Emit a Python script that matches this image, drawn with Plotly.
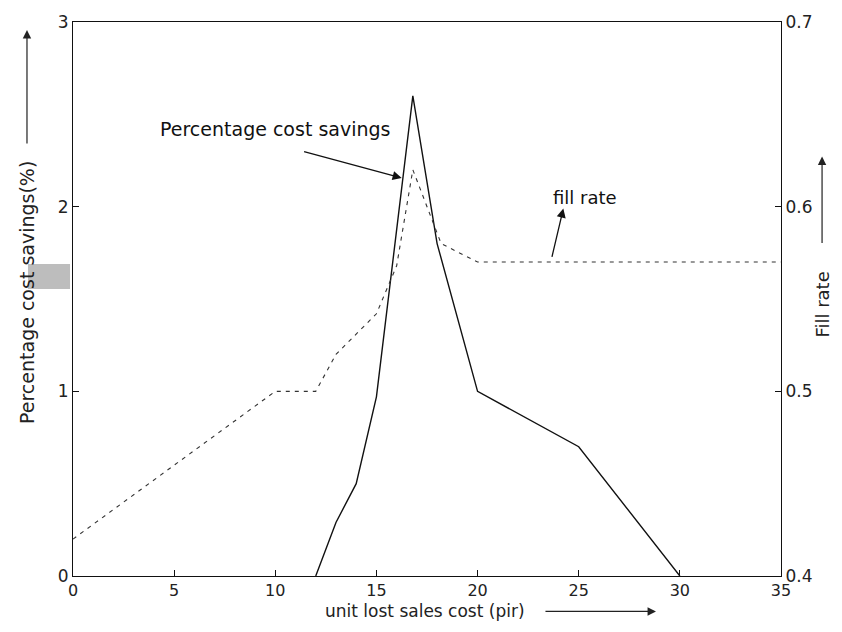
import plotly.graph_objects as go

# ---- data ----
cost_x = [12, 13, 14, 15, 16.8, 18, 20, 25, 30]
cost_savings = [0, 0.29, 0.5, 0.97, 2.6, 1.8, 1.0, 0.7, 0]

fill_x = [0, 10, 12, 13, 15, 16, 16.8, 18.2, 20, 35]
fill_rate = [0.42, 0.5, 0.5, 0.52, 0.542, 0.568, 0.62, 0.58, 0.57, 0.57]

x_ticks = [0, 5, 10, 15, 20, 25, 30, 35]
y_ticks = [0, 1, 2, 3]
y2_ticks = [0.4, 0.5, 0.6, 0.7]
y2_labels = ["0.4", "0.5", "0.6", "0.7"]

FONT = "DejaVu Sans"
FS = 17

fig = go.Figure()
fig.add_trace(go.Scatter(x=cost_x, y=cost_savings, mode="lines",
                         line=dict(color="#111111", width=1.4),
                         name="Percentage cost savings", yaxis="y"))
fig.add_trace(go.Scatter(x=fill_x, y=fill_rate, mode="lines",
                         line=dict(color="#333333", width=1.1, dash="4px,5px"),
                         name="fill rate", yaxis="y2"))

axis_common = dict(showgrid=False, zeroline=False, showline=True,
                   linecolor="#111111", linewidth=1.2, ticks="inside",
                   ticklen=6, tickcolor="#111111",
                   tickfont=dict(family=FONT, size=FS, color="#222222"))

fig.update_layout(
    width=842, height=632,
    margin=dict(l=73, r=61, t=20, b=56),
    paper_bgcolor="white", plot_bgcolor="white",
    showlegend=False,
    font=dict(family=FONT, size=FS, color="#222222"),
    xaxis=dict(range=[0, 35], tickvals=x_ticks, mirror=True,
               **{**axis_common, "tickfont": dict(family=FONT, size=16, color="#222222")}),
    yaxis=dict(range=[0, 3], tickvals=y_ticks, **axis_common),
    yaxis2=dict(range=[0.4, 0.7], tickvals=y2_ticks, ticktext=y2_labels,
                overlaying="y", side="right", **axis_common),
)

C = dict(xanchor="center", yanchor="middle")
ann = []
# in-plot labels
ann.append(dict(x=10.0, y=2.42, xref="x", yref="y", text="Percentage cost savings",
                showarrow=False, font=dict(family=FONT, size=19, color="#111111"), **C))
ann.append(dict(x=16.25, y=2.155, xref="x", yref="y", ax=11.35, ay=2.30,
                axref="x", ayref="y", text="", showarrow=True, arrowhead=2,
                arrowsize=1.4, arrowwidth=1.3, arrowcolor="#111111"))
ann.append(dict(x=25.3, y=2.05, xref="x", yref="y", text="fill rate",
                showarrow=False, font=dict(family=FONT, size=18, color="#111111"), **C))
ann.append(dict(x=24.24, y=1.99, xref="x", yref="y", ax=23.66, ay=1.72,
                axref="x", ayref="y", text="", showarrow=True, arrowhead=2,
                arrowsize=1.4, arrowwidth=1.3, arrowcolor="#111111"))
# axis titles
ann.append(dict(x=0.497, y=-0.064, xref="paper", yref="paper",
                text="unit lost sales cost (pir)", showarrow=False,
                font=dict(family=FONT, size=17, color="#222222"), **C))
ann.append(dict(x=0.8234, y=-0.064, xref="paper", yref="paper", ax=-112, ay=0,
                text="", showarrow=True, arrowhead=2, arrowsize=1.4,
                arrowwidth=1.2, arrowcolor="#222222"))
ann.append(dict(x=-0.065, y=0.5126, xref="paper", yref="paper",
                text="Percentage cost savings(%)", textangle=-90, showarrow=False,
                font=dict(family=FONT, size=19, color="#222222"), **C))
ann.append(dict(x=-0.065, y=0.9856, xref="paper", yref="paper", ax=0, ay=115,
                text="", showarrow=True, arrowhead=2, arrowsize=1.4,
                arrowwidth=1.2, arrowcolor="#222222"))
ann.append(dict(x=1.058, y=0.49, xref="paper", yref="paper",
                text="Fill rate", textangle=-90, showarrow=False,
                font=dict(family=FONT, size=18, color="#222222"), **C))
ann.append(dict(x=1.058, y=0.757, xref="paper", yref="paper", ax=0, ay=88,
                text="", showarrow=True, arrowhead=2, arrowsize=1.4,
                arrowwidth=1.2, arrowcolor="#222222"))
fig.update_layout(annotations=ann)

# grey scan patch near the left title
fig.add_shape(type="rect", xref="paper", yref="paper",
              x0=-0.0636, x1=-0.0042, y0=0.518, y1=0.563,
              fillcolor="#bdbdbd", line=dict(width=0), layer="below")

fig.write_html("out.html", config={"displayModeBar": False},
               post_script="document.body.style.margin='0px';")
